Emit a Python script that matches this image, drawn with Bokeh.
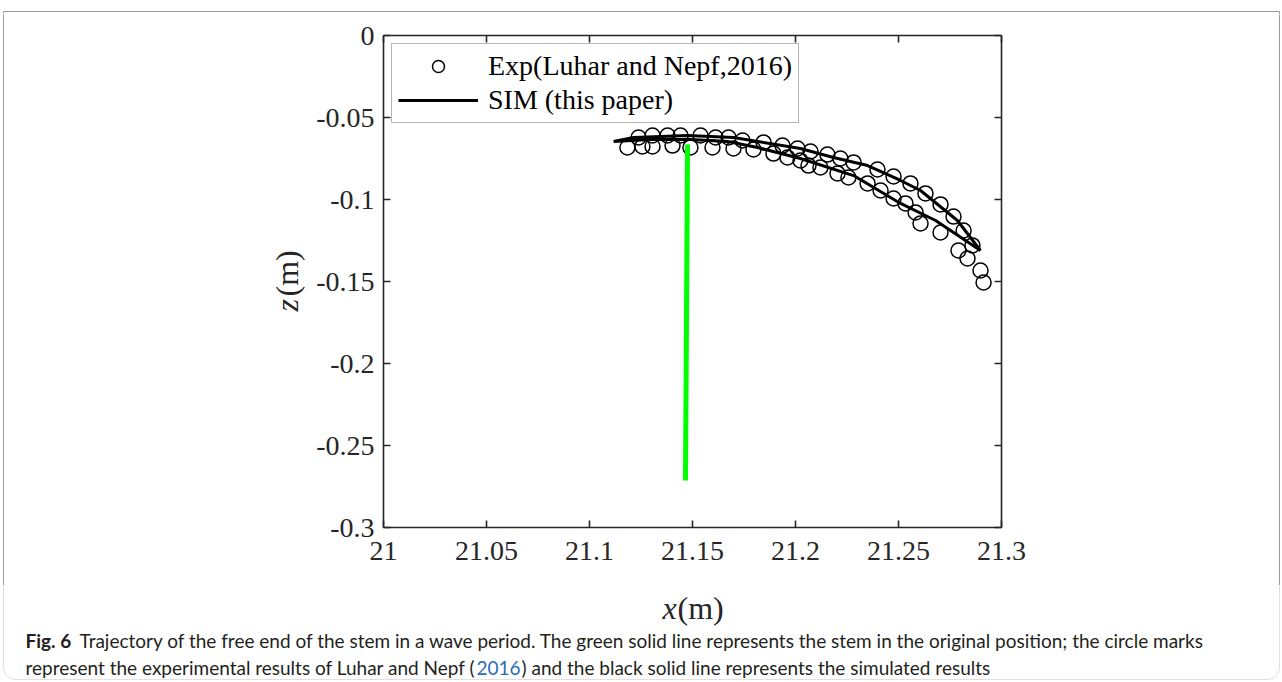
import math
from bokeh.plotting import figure
from bokeh.models import (Range1d, LinearAxis, FixedTicker, Legend, LegendItem, BoxAnnotation)
from bokeh.layouts import column, row
from bokeh.core.properties import value
from bokeh.embed import file_html
from bokeh.resources import INLINE

# ---------------- data ----------------
exp_x = [21.1238, 21.1306, 21.1379, 21.1442, 21.1539, 21.1612, 21.1675, 21.1743, 21.1845,
         21.1937, 21.2010, 21.2073, 21.2155, 21.2218, 21.2282, 21.2398, 21.2476, 21.2558,
         21.2631, 21.2704, 21.2767, 21.2816, 21.2859,
         21.2913, 21.2898, 21.2835, 21.2791, 21.2704, 21.2607, 21.2583, 21.2534, 21.2476,
         21.2413, 21.2350, 21.2257, 21.2204, 21.2121, 21.2063, 21.2024, 21.1961, 21.1893,
         21.1796, 21.1699, 21.1597, 21.1490, 21.1403, 21.1306, 21.1257, 21.1184]
exp_z = [-0.0622, -0.0610, -0.0610, -0.0610, -0.0610, -0.0622, -0.0622, -0.0640, -0.0652,
         -0.0671, -0.0689, -0.0707, -0.0726, -0.0750, -0.0774, -0.0817, -0.0860, -0.0902,
         -0.0963, -0.1030, -0.1104, -0.1189, -0.1280,
         -0.1506, -0.1433, -0.1360, -0.1311, -0.1201, -0.1146, -0.1079, -0.1024, -0.0994,
         -0.0945, -0.0902, -0.0866, -0.0841, -0.0805, -0.0793, -0.0762, -0.0744, -0.0720,
         -0.0695, -0.0689, -0.0683, -0.0683, -0.0671, -0.0677, -0.0677, -0.0683]

sim_x = [21.1117, 21.1214, 21.1476, 21.1699, 21.2024, 21.2184, 21.2350, 21.2510, 21.2607,
         21.2786, 21.2898, 21.2680, 21.2510, 21.2282, 21.2024, 21.1816, 21.1670, 21.1490,
         21.1296, 21.1117]
sim_z = [-0.0646, -0.0622, -0.0610, -0.0622, -0.0689, -0.0744, -0.0793, -0.0884, -0.0945,
         -0.1128, -0.1311, -0.1128, -0.1024, -0.0854, -0.0750, -0.0683, -0.0646, -0.0634,
         -0.0634, -0.0646]

stem_x = [21.1466, 21.1476]
stem_z = [-0.2713, -0.0665]

x_ticks = [21.0, 21.05, 21.1, 21.15, 21.2, 21.25, 21.3]
x_tick_labels = ["21", "21.05", "21.1", "21.15", "21.2", "21.25", "21.3"]
y_ticks = [0.0, -0.05, -0.1, -0.15, -0.2, -0.25, -0.3]
y_tick_labels = ["0", "-0.05", "-0.1", "-0.15", "-0.2", "-0.25", "-0.3"]

legend_labels = ["Exp(Luhar and Nepf,2016)", "SIM (this paper)"]
x_label = ["x", "(m)"]
y_label = ["z", "(m)"]
caption_bold = "Fig. 6"
caption_line1 = ("Trajectory of the free end of the stem in a wave period. The green solid line "
                 "represents the stem in the original position; the circle marks")
caption_line2a = "represent the experimental results of Luhar and Nepf ("
caption_year = "2016"
caption_line2b = ") and the black solid line represents the simulated results"

# ---------------- page geometry (pixels) ----------------
W, H = 1282, 682
TOP_H = 14            # strip above the plot
MID_H = 571           # height of plot row
BOT_H = H - TOP_H - MID_H
LEFT_W = 306
RIGHT_W = 10
MAIN_W = W - LEFT_W - RIGHT_W
FL, FR, FT, FB = 383, 1001, 35, 527      # absolute frame position
X0, X1 = 21.0, 21.3
Y0, Y1 = -0.3, 0.0
BOX_L, BOX_R, BOX_T, BOX_B = 3, 1279, 11, 679

AX = "#262626"
SERIF = "Liberation Serif"
CAP = "Lato"
CAPSZ = "19px"
CAPCOL = "#231f20"
BORDER = "#9a9a9a"


def strip(w, h):
    f = figure(width=w, height=h, output_backend="svg", toolbar_location=None,
               x_range=Range1d(0, w), y_range=Range1d(0, h), min_border=0,
               x_axis_location=None, y_axis_location=None, frame_align=False)
    f.grid.visible = False
    f.outline_line_color = None
    f.background_fill_color = "white"
    f.border_fill_color = "white"
    return f


def txt(f, ox, oy, h, ax, ay, s, font, size, color, style="normal", angle=0.0):
    f.text(x=[ax - ox], y=[h - (ay - oy)], text=[s], text_font=value(font),
           text_font_size=value(size), text_font_style=style, text_color=color,
           text_align="left", text_baseline="middle", angle=angle)


# ---------------- main plot ----------------
p = figure(width=MAIN_W, height=MID_H, output_backend="svg", toolbar_location=None,
           x_range=Range1d(X0, X1), y_range=Range1d(Y0, Y1),
           min_border_left=FL - LEFT_W, min_border_right=(LEFT_W + MAIN_W) - FR,
           min_border_top=FT - TOP_H, min_border_bottom=(TOP_H + MID_H) - FB,
           x_axis_location=None, y_axis_location=None, frame_align=False)
p.grid.visible = False
p.outline_line_color = None
p.background_fill_color = "white"
p.border_fill_color = "white"


def make_axis(show_labels, ticks, labels):
    ax = LinearAxis(ticker=FixedTicker(ticks=ticks))
    ax.axis_line_color = AX
    ax.axis_line_width = 1.6
    ax.major_tick_line_color = AX
    ax.major_tick_line_width = 1.6
    ax.major_tick_in = 7
    ax.major_tick_out = 0
    ax.minor_tick_in = 0
    ax.minor_tick_out = 0
    if show_labels:
        ax.major_label_overrides = {t: l for t, l in zip(ticks, labels)}
        ax.major_label_text_font = SERIF
        ax.major_label_text_font_size = "28px"
        ax.major_label_text_color = AX
    else:
        ax.major_label_overrides = {t: "" for t in ticks}
        ax.major_label_text_font_size = "1px"
        ax.major_label_standoff = 0
    return ax


xb = make_axis(True, x_ticks, x_tick_labels)
xb.major_label_standoff = 14
yl = make_axis(True, y_ticks, y_tick_labels)
yl.major_label_standoff = 9
p.add_layout(xb, "below")
p.add_layout(yl, "left")
p.add_layout(make_axis(False, x_ticks, x_tick_labels), "above")
p.add_layout(make_axis(False, y_ticks, y_tick_labels), "right")

circ = p.scatter(exp_x, exp_z, marker="circle", size=15, fill_color=None,
                 line_color="black", line_width=1.5)
sim = p.line(sim_x, sim_z, line_color="black", line_width=3)
p.line(stem_x, stem_z, line_color="#00ff00", line_width=5)

legend = Legend(items=[LegendItem(label=legend_labels[0], renderers=[circ]),
                       LegendItem(label=legend_labels[1], renderers=[sim])],
                location="top_left", margin=8)
legend.label_text_font = SERIF
legend.label_text_font_size = "28px"
legend.label_text_color = "black"
legend.glyph_width = 80
legend.glyph_height = 30
legend.label_height = 30
legend.label_standoff = 10
legend.padding = 6
legend.spacing = 2
legend.border_line_color = "#6e6e6e"
legend.border_line_width = 1
legend.background_fill_color = "white"
legend.background_fill_alpha = 1
p.add_layout(legend)

# ---------------- top strip ----------------
top = strip(W, TOP_H)
top.line(x=[BOX_L, BOX_L, BOX_R, BOX_R],
         y=[0, TOP_H - BOX_T, TOP_H - BOX_T, 0], line_color=BORDER, line_width=1)

# ---------------- left strip (y axis title) ----------------
left = strip(LEFT_W, MID_H)
left.line(x=[BOX_L, BOX_L], y=[0, MID_H], line_color=BORDER, line_width=1)
txt(left, 0, TOP_H, MID_H, 286, 311, y_label[0], SERIF, "32px", AX, "italic", math.pi / 2)
txt(left, 0, TOP_H, MID_H, 286, 296, y_label[1], SERIF, "32px", AX, "normal", math.pi / 2)

# ---------------- right strip ----------------
right = strip(RIGHT_W, MID_H)
right.line(x=[BOX_R - (W - RIGHT_W)] * 2, y=[0, MID_H], line_color=BORDER, line_width=1)

# ---------------- bottom strip (x axis title + caption) ----------------
OY = TOP_H + MID_H
bot = strip(W, BOT_H)
bot.add_layout(BoxAnnotation(left=BOX_L, right=BOX_R, top=BOT_H + 30,
                             bottom=BOT_H - (BOX_B - OY),
                             fill_alpha=0, line_color=BORDER, line_width=1,
                             border_radius=(0, 0, 12, 12)))
txt(bot, 0, OY, BOT_H, 662, 607, x_label[0], SERIF, "32px", AX, "italic")
txt(bot, 0, OY, BOT_H, 677, 607, x_label[1], SERIF, "32px", AX)
txt(bot, 0, OY, BOT_H, 25, 640, caption_bold, CAP, CAPSZ, CAPCOL, "bold")
txt(bot, 0, OY, BOT_H, 79, 640, caption_line1, CAP, CAPSZ, CAPCOL)
txt(bot, 0, OY, BOT_H, 25, 667, caption_line2a, CAP, CAPSZ, CAPCOL)
txt(bot, 0, OY, BOT_H, 476, 667, caption_year, CAP, CAPSZ, "#2a6db5")
txt(bot, 0, OY, BOT_H, 521, 667, caption_line2b, CAP, CAPSZ, CAPCOL)

layout = column(top, row(left, p, right, spacing=0), bot, spacing=0)
open("out.html", "w").write(file_html(layout, INLINE))
